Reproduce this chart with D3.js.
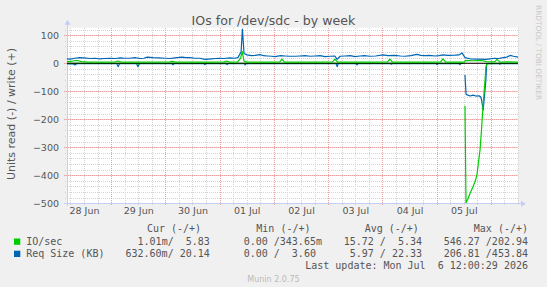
<!DOCTYPE html>
<html>
<head>
<meta charset="utf-8">
<script src="https://cdn.jsdelivr.net/npm/d3@7"></script>
<style>
  html, body { margin: 0; padding: 0; background: #f0f0f0; }
  svg { display: block; }
  text { font-family: "DejaVu Sans", sans-serif; }
  .mono { font-family: "DejaVu Sans Mono", monospace; font-size: 10px; fill: #555; white-space: pre; }
</style>
</head>
<body>
<div id="container"></div>
<script>
const WIDTH = 547;
const HEIGHT = 287;
const PLOT_LEFT = 67;
const PLOT_RIGHT = 518;
const PLOT_TOP = 27.7;
const PLOT_BOTTOM = 203.3;

// hours after 28 Jun 00:00 UTC, value
var ioWrite = [[4.5, 6], [7, 8], [9, 10], [11, 6], [14, 4], [20, 4], [26, 5], [27, 8], [28.5, 4], [36, 4],
  [44, 4], [50, 5], [51, 7], [52.5, 4], [60, 4], [68, 4], [74, 5], [75, 8], [76.5, 4], [80, 5],
  [81.3, 18], [82, 42], [82.8, 8], [84, 4], [90, 4], [96, 4], [98.6, 5], [99.6, 15], [100.7, 4],
  [108, 4], [116, 4], [122, 5], [123, 15], [124.2, 4], [132, 4], [140, 4], [146.3, 5], [147.3, 15],
  [148.5, 4], [156, 4], [164, 4], [169.8, 5], [170.8, 16], [172, 4], [178, 4], [180.3, 4], [180.8, 10],
  [184, 9], [188, 10], [190, 6], [193.7, 5], [194.7, 14], [196, 4], [200, 5], [204, 4]];

var ioRead = [[4.5, 0.5], [27, 0.5], [35.5, 0.5], [35.9, 5], [36.4, 0.5], [60, 0.5], [100, 0.5], [140, 0.5],
  [179.8, 0.5], [180.2, null], [180.55, 152], [181.0, 498], [182.0, 482], [182.8, 464], [184.1, 441],
  [185.2, 418], [185.9, 395], [186.4, 360], [187.2, 310], [187.9, 232], [188.6, 145], [189.4, 62],
  [189.8, 14], [190.2, 1], [196, 0.5], [204, 0.5]];

var reqWrite = [[4.5, 16], [6, 15], [8, 18], [10, 20], [12, 19], [14.7, 17], [17, 18], [19, 16], [21, 17],
  [23.5, 18], [26, 17], [28, 19], [30, 18], [32.4, 18], [34.5, 20], [36.8, 17], [38.5, 18], [40, 22],
  [42.5, 20], [45, 19], [48, 18], [50, 17], [52.3, 19], [55.4, 22], [57, 20], [59, 20], [61, 18],
  [63.3, 18], [65.5, 14], [68.6, 16], [70, 17], [72, 18], [74, 17], [76.6, 19], [78.5, 18], [80.1, 20],
  [81.5, 40], [82.1, 122], [82.8, 35], [84.1, 30], [86, 27], [87.7, 28], [89.9, 31], [91.5, 27], [93, 26],
  [95, 25], [96.5, 24], [99, 27], [101, 26], [103, 25], [105.4, 25], [107.5, 26], [109.8, 27],
  [112, 25], [114.2, 26], [116.5, 27], [118.6, 24], [121, 25], [123, 26], [124, 14], [125.3, 25],
  [127.5, 26], [129.7, 27], [132, 24], [134.1, 26], [136, 27], [138.5, 25], [141, 26], [144.3, 30],
  [146.5, 27], [149.6, 28], [152, 26], [154, 25], [156.5, 27], [159.3, 32], [161, 28], [162.9, 27],
  [165, 28], [167.3, 26], [169, 27], [170.8, 30], [173, 28], [176.1, 29], [178, 30], [179.2, 37],
  [180.6, 20], [182.8, 16], [186.3, 15], [189.9, 14], [191.5, 16], [193.8, 18], [195.5, 17],
  [197.4, 20], [199, 22], [200.5, 28], [202, 25], [204, 22]];

var reqRead = [[4.5, 2], [7, 2], [8, 6], [9, 1], [20, 1], [26.5, 1], [27.1, 12], [27.8, 1], [35.2, 1], [35.9, 12],
  [36.6, 1], [50.8, 1], [51.4, 5], [52, 1], [65, 1], [65.5, 5], [66, 1], [74.8, 1], [75.3, 5], [75.8, 1],
  [82.9, 1], [83.3, 6], [83.8, 1], [123.5, 1], [124, 12], [124.5, 1], [132.3, 1], [132.8, 6], [133.3, 1],
  [147.5, 1], [148, 4], [148.5, 1], [167.7, 1], [168.2, 5], [168.7, 1], [177.8, 1], [178.3, 5], [178.8, 1],
  [180.2, null], [180.55, 42], [181.0, 110], [181.5, 113], [182.8, 117], [184.1, 114], [185.4, 117],
  [186.7, 116], [187.5, 120], [187.9, 131], [188.6, 167], [189.4, 95], [189.8, 60], [190.1, 6], [190.5, 1],
  [195.5, 1], [196, 4], [196.5, 1], [204, 1]];

var yTicks = [100, 0, -100, -200, -300, -400, -500];
var dayTicks = ["2026-06-28", "2026-06-29", "2026-06-30", "2026-07-01", "2026-07-02", "2026-07-03", "2026-07-04", "2026-07-05"];

var legendNames = ["IO/sec", "Req Size (KB)"];
var legendColors = ["#00cc00", "#0066b3"];
var legendCur = ["1.01m/  5.83", "632.60m/ 20.14"];
var legendMin = ["0.00 /343.65m", "0.00 /  3.60"];
var legendAvg = ["15.72 /  5.34", "5.97 / 22.33"];
var legendMax = ["546.27 /202.94", "206.81 /453.84"];

var toDate = function (h) {
    return new Date(Date.UTC(2026, 5, 28) + h * 3600e3);
};
var crisp = function (v) {
    return Math.round(v) + 0.5;
};

var XScale = d3.scaleUtc().domain([toDate(4.5), toDate(204)]).range([PLOT_LEFT, PLOT_RIGHT]);
var YScale = d3.scaleLinear().domain([-500, 127]).range([PLOT_BOTTOM, PLOT_TOP]);

var svg = d3.select("#container").append("svg")
    .attr("width", WIDTH)
    .attr("height", HEIGHT);

svg.append("rect").attr("width", WIDTH).attr("height", HEIGHT).attr("fill", "#f0f0f0");
svg.append("rect")
    .attr("x", PLOT_LEFT).attr("y", PLOT_TOP)
    .attr("width", PLOT_RIGHT - PLOT_LEFT).attr("height", PLOT_BOTTOM - PLOT_TOP)
    .attr("fill", "#ffffff");

// grid
var minorX = XScale.ticks(d3.utcHour.every(6));
var majorX = XScale.ticks(d3.utcDay.every(1));
var minorY = d3.range(-500, 127, 20);

var grid = svg.append("g").attr("shape-rendering", "crispEdges");
grid.selectAll(".vmin").data(minorX).join("line")
    .attr("x1", d => crisp(XScale(d))).attr("x2", d => crisp(XScale(d)))
    .attr("y1", PLOT_TOP).attr("y2", PLOT_BOTTOM + 2)
    .attr("stroke", "#d4d4d4").attr("stroke-dasharray", "1,1");
grid.selectAll(".hmin").data(minorY).join("line")
    .attr("x1", PLOT_LEFT - 2).attr("x2", PLOT_RIGHT)
    .attr("y1", d => crisp(YScale(d))).attr("y2", d => crisp(YScale(d)))
    .attr("stroke", "#d4d4d4").attr("stroke-dasharray", "1,1");
grid.selectAll(".vmaj").data(majorX).join("line")
    .attr("x1", d => crisp(XScale(d))).attr("x2", d => crisp(XScale(d)))
    .attr("y1", PLOT_TOP).attr("y2", PLOT_BOTTOM + 3)
    .attr("stroke", "#e8a0a0").attr("stroke-dasharray", "1,1");
grid.selectAll(".hmaj").data(yTicks).join("line")
    .attr("x1", PLOT_LEFT - 3).attr("x2", PLOT_RIGHT)
    .attr("y1", d => crisp(YScale(d))).attr("y2", d => crisp(YScale(d)))
    .attr("stroke", "#e8a0a0").attr("stroke-dasharray", "1,1");

// axes lines with arrows
var axisColor = "#c6cef5";
svg.append("line").attr("x1", crisp(PLOT_LEFT)).attr("x2", crisp(PLOT_LEFT))
    .attr("y1", PLOT_BOTTOM + 3).attr("y2", PLOT_TOP - 4).attr("stroke", axisColor)
    .attr("shape-rendering", "crispEdges");
svg.append("line").attr("x1", PLOT_LEFT - 3).attr("x2", PLOT_RIGHT + 4)
    .attr("y1", crisp(PLOT_BOTTOM)).attr("y2", crisp(PLOT_BOTTOM)).attr("stroke", axisColor)
    .attr("shape-rendering", "crispEdges");
svg.append("path")
    .attr("d", `M${PLOT_LEFT - 2.5},${PLOT_TOP - 3} L${PLOT_LEFT + 0.5},${PLOT_TOP - 8} L${PLOT_LEFT + 3.5},${PLOT_TOP - 3} Z`)
    .attr("fill", axisColor);
svg.append("path")
    .attr("d", `M${PLOT_RIGHT + 3},${PLOT_BOTTOM - 2.5} L${PLOT_RIGHT + 8},${PLOT_BOTTOM + 0.5} L${PLOT_RIGHT + 3},${PLOT_BOTTOM + 3.5} Z`)
    .attr("fill", axisColor);

// axis labels via d3 axes
var XAxis = d3.axisBottom(XScale)
    .tickValues(dayTicks.map(d => d3.utcHour.offset(new Date(d + "T00:00:00Z"), 12)))
    .tickFormat(d3.utcFormat("%d %b"))
    .tickSize(0).tickPadding(0);
var YAxis = d3.axisLeft(YScale).tickValues(yTicks).tickSize(0).tickPadding(0);

var gx = svg.append("g").attr("transform", `translate(0,${PLOT_BOTTOM + 4})`).call(XAxis);
gx.select(".domain").remove();
gx.selectAll("text").attr("font-family", "DejaVu Sans").attr("font-size", 9.5).attr("fill", "#555").attr("dy", "0.75em");

var gy = svg.append("g").attr("transform", `translate(${PLOT_LEFT - 8},0)`).call(YAxis);
gy.select(".domain").remove();
gy.selectAll("text").attr("font-family", "DejaVu Sans").attr("font-size", 9.5).attr("fill", "#555");

// series
var line = d3.line()
    .defined(d => d[1] !== null)
    .x(d => XScale(toDate(d[0])))
    .y(d => YScale(d[2]));

var drawSeries = function (data, sign, color) {
    svg.append("path")
        .datum(data.map(d => [d[0], d[1], d[1] === null ? null : sign * d[1]]))
        .attr("d", line)
        .attr("fill", "none")
        .attr("stroke", color)
        .attr("stroke-width", 1.2)
        .attr("stroke-linejoin", "round");
};

drawSeries(reqRead, -1, legendColors[1]);
drawSeries(ioRead, -1, legendColors[0]);

// zero line sits above the read lines, below the write lines
svg.append("line").attr("x1", PLOT_LEFT).attr("x2", PLOT_RIGHT)
    .attr("y1", YScale(0)).attr("y2", YScale(0))
    .attr("stroke", "#000").attr("stroke-width", 1.2);

drawSeries(reqWrite, 1, legendColors[1]);
drawSeries(ioWrite, 1, legendColors[0]);

// title & side texts
svg.append("text").attr("x", 273.5).attr("y", 25).attr("text-anchor", "middle")
    .attr("font-size", 12.6).attr("fill", "#555").text("IOs for /dev/sdc - by week");
svg.append("text").attr("transform", "translate(15,114) rotate(-90)").attr("text-anchor", "middle")
    .attr("font-size", 11).attr("fill", "#555").text("Units read (-) / write (+)");
svg.append("text").attr("transform", "translate(536,5) rotate(90)")
    .attr("font-size", 7.4).attr("fill", "#c8c8c8").text("RRDTOOL / TOBI OETIKER");

// legend
var legend = svg.append("g");
var headers = [["Cur (-/+)", 146.9], ["Min (-/+)", 256.3], ["Avg (-/+)", 364.7], ["Max (-/+)", 473.8]];
headers.forEach(function (h) {
    legend.append("text").attr("class", "mono").attr("x", h[1]).attr("y", 232.2).text(h[0]);
});
legendNames.forEach(function (name, i) {
    var yy = 244.8 + i * 12.2;
    legend.append("rect").attr("x", 14).attr("y", yy - 6.3).attr("width", 6.3).attr("height", 6.3)
        .attr("fill", legendColors[i]);
    legend.append("text").attr("class", "mono").attr("x", 26.2).attr("y", yy).text(name);
    legend.append("text").attr("class", "mono").attr("x", 209.8).attr("y", yy).attr("text-anchor", "end").text(legendCur[i]);
    legend.append("text").attr("class", "mono").attr("x", 243.7).attr("y", yy).text(legendMin[i]);
    legend.append("text").attr("class", "mono").attr("x", 422).attr("y", yy).attr("text-anchor", "end").text(legendAvg[i]);
    legend.append("text").attr("class", "mono").attr("x", 528).attr("y", yy).attr("text-anchor", "end").text(legendMax[i]);
});
legend.append("text").attr("class", "mono").attr("x", 528).attr("y", 269.2).attr("text-anchor", "end")
    .text("Last update: Mon Jul  6 12:00:29 2026");
svg.append("text").attr("x", 273.5).attr("y", 281.5).attr("text-anchor", "middle")
    .attr("font-size", 8).attr("fill", "#bbb").text("Munin 2.0.75");
</script>
</body>
</html>
